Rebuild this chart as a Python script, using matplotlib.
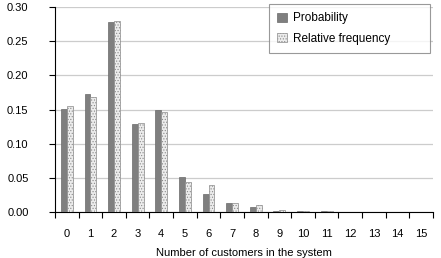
import numpy as np
import matplotlib
matplotlib.use('Agg')
import matplotlib.pyplot as plt

plt.rcParams['font.family'] = ['Liberation Sans', 'DejaVu Sans']
plt.rcParams['hatch.color'] = '#b0b0b0'
plt.rcParams['hatch.linewidth'] = 0.5

# number of customers in the system
customers = list(range(16))
probability = [0.151, 0.173, 0.278, 0.129, 0.149, 0.052, 0.027, 0.014, 0.007,
               0.002, 0.001, 0.001, 0.0005, 0.0003, 0.0002, 0.0001]
rel_frequency = [0.155, 0.168, 0.279, 0.130, 0.146, 0.044, 0.039, 0.013, 0.010,
                 0.003, 0.002, 0.001, 0.0005, 0.0003, 0.0002, 0.0001]
y_ticks = [0.00, 0.05, 0.10, 0.15, 0.20, 0.25, 0.30]

fig = plt.figure(figsize=(4.41, 2.58), dpi=100)
ax = fig.add_axes([0.1247, 0.178, 0.857, 0.795])

x = np.array(customers)
w = 0.25
ax.bar(x - w / 2, probability, w, color='#7f7f7f', edgecolor='#6a6a6a',
       linewidth=0.5, label='Probability', zorder=3)
ax.bar(x + w / 2, rel_frequency, w, color='#ececec', edgecolor='#8a8a8a',
       linewidth=0.5, hatch='......', label='Relative frequency', zorder=3)

ax.set_xlim(-0.5, 15.5)
ax.set_ylim(0, 0.30)
ax.set_yticks(y_ticks)
ax.set_yticklabels([f"{v:.2f}" for v in y_ticks], fontsize=8)
ax.yaxis.grid(True, color='#cccccc', linewidth=0.9, zorder=0)

# category labels centered, tick marks at category boundaries
ax.set_xticks(x)
ax.set_xticklabels([str(c) for c in customers], fontsize=8)
ax.tick_params(axis='x', which='major', length=0, pad=12)
ax.set_xticks(np.arange(-0.5, 16, 1), minor=True)
ax.tick_params(axis='x', which='minor', length=4, width=0.8, direction='out')
ax.tick_params(axis='y', length=4, width=0.8, pad=15)

ax.set_xlabel('Number of customers in the system', fontsize=8, labelpad=7)

for s in ['top', 'right']:
    ax.spines[s].set_visible(False)
ax.spines['left'].set_linewidth(0.8)
ax.spines['bottom'].set_linewidth(0.8)

leg = ax.legend(loc='upper left', bbox_to_anchor=(0.566, 1.015, 0.426, 0.0),
                mode='expand', fontsize=8.5,
                frameon=True, fancybox=False, edgecolor='#808080',
                handlelength=0.8, handleheight=0.8, handletextpad=0.5,
                labelspacing=0.75, borderpad=0.7, borderaxespad=0)
leg.get_frame().set_linewidth(0.8)

fig.savefig('out.png', dpi=100)
